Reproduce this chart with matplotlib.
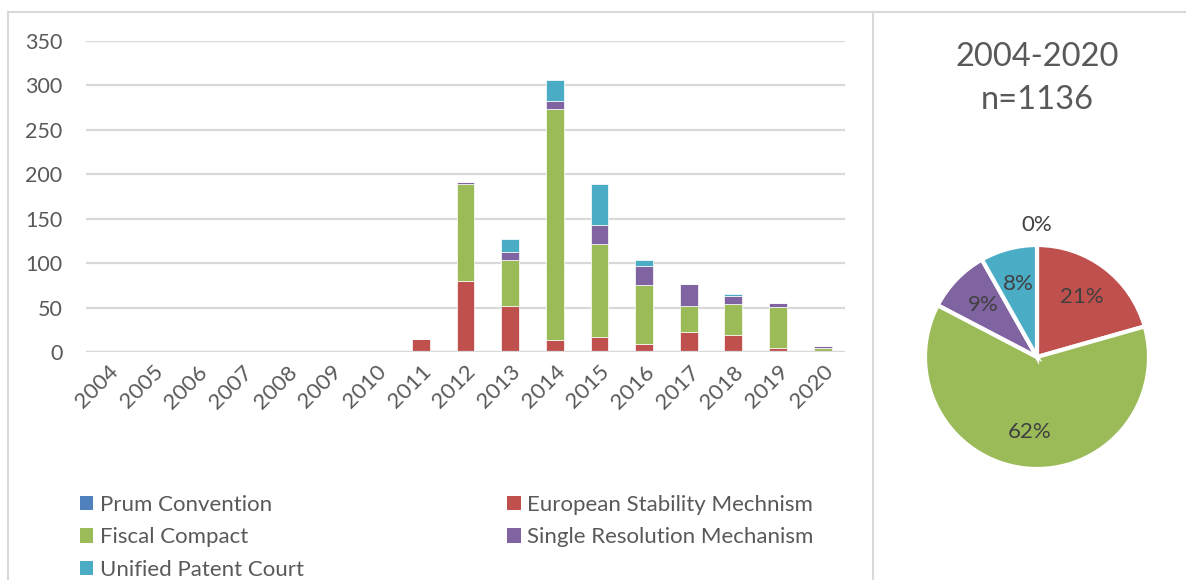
import numpy as np
import matplotlib.pyplot as plt
from matplotlib.lines import Line2D
from matplotlib.patches import Patch

plt.rcParams['font.family'] = ['Lato', 'DejaVu Sans']

# Anzahl pro Jahr und Abkommen
years = [str(y) for y in range(2004, 2021)]
prum = [0, 0, 0, 0, 0, 0, 0, 0, 0, 0, 0, 0, 0, 0, 0, 0, 0]
esm = [0, 0, 0, 0, 0, 0, 1, 15, 80, 52, 14, 17, 9, 22, 19, 5, 0]
fiscal = [0, 0, 0, 0, 0, 0, 0, 0, 109, 51, 259, 104, 66, 30, 35, 46, 5]
srm = [0, 0, 0, 0, 0, 0, 0, 0, 2, 10, 9, 22, 22, 24, 9, 4, 2]
upc = [0, 0, 0, 0, 0, 0, 0, 0, 0, 14, 24, 46, 7, 0, 2, 0, 0]

names = ['Prum Convention', 'European Stability Mechnism', 'Fiscal Compact',
         'Single Resolution Mechanism', 'Unified Patent Court']
colors = ['#4F81BD', '#C0504D', '#9BBB59', '#8064A2', '#4BACC6']
series = [prum, esm, fiscal, srm, upc]

txt = '#595959'
grid = '#D9D9D9'
W, H = 1186, 580
fs = 16

fig = plt.figure(figsize=(W / 100, H / 100), dpi=100)

# gestapelte Balken
ax = fig.add_axes([86 / W, 1 - 352 / H, 759 / W, 311 / H])
x = np.arange(len(years))
bottom = np.zeros(len(years))
for vals, c, name in zip(series, colors, names):
    vals = np.array(vals)
    ax.bar(x, vals, 0.4, bottom=bottom, color=c, edgecolor='white',
           linewidth=0.5, label=name, zorder=3)
    bottom += vals
ax.set_xlim(-0.5, len(years) - 0.5)
ax.set_ylim(0, 350)
ax.set_yticks(range(0, 351, 50))
ax.yaxis.grid(True, color=grid, linewidth=1.6, zorder=0)
ax.axhline(0, color=grid, linewidth=1.6, zorder=4)
for s in ax.spines.values():
    s.set_visible(False)
ax.set_xticks(x)
ax.set_xticklabels(years, rotation=45, ha='right', rotation_mode='anchor')
ax.tick_params(length=0, labelsize=fs, colors=txt)
ax.tick_params(axis='y', pad=17, labelsize=15.5)
ax.tick_params(axis='x', pad=7)

# Legende
order = [0, 2, 4, 1, 3]
handles = [Patch(facecolor=colors[i]) for i in order]
fig.legend(handles, [names[i] for i in order], ncol=2, frameon=False,
           loc='upper left', bbox_to_anchor=(69 / W, 1 - 484 / H),
           handlelength=0.6, handleheight=0.6, handletextpad=0.3,
           labelspacing=0.55, columnspacing=9.15, fontsize=fs,
           labelcolor=txt, borderpad=0)

# Kreisdiagramm 2004-2020
totals = [sum(s) for s in series]
pax = fig.add_axes([(1037 - 112) / W, (H - 357 - 112) / H, 224 / W, 224 / H])
wedges, labels, pcts = pax.pie(totals, colors=colors, startangle=90,
                               counterclock=False, autopct='%1.0f%%',
                               pctdistance=0.67,
                               wedgeprops=dict(edgecolor='white', linewidth=3),
                               textprops=dict(color='#404040', fontsize=fs))
pcts[0].set_position((0, 1.18))
pax.set_xlim(-1, 1)
pax.set_ylim(-1, 1)
for w in wedges:
    w.set_clip_on(False)

fig.text(1037 / W, 1 - 57 / H, '2004-2020', ha='center', va='center',
         fontsize=23.5, color=txt)
fig.text(1037 / W, 1 - 100 / H, 'n=1136', ha='center', va='center',
         fontsize=23.5, color=txt)

# Rahmen der beiden Diagramme
for xs, ys in [([8, 8], [H, 12]), ([8, W], [12, 12]), ([873, 873], [H, 12])]:
    fig.add_artist(Line2D([v / W for v in xs], [1 - v / H for v in ys],
                          transform=fig.transFigure, color=grid, linewidth=1.5))

fig.savefig('out.png', dpi=100)
